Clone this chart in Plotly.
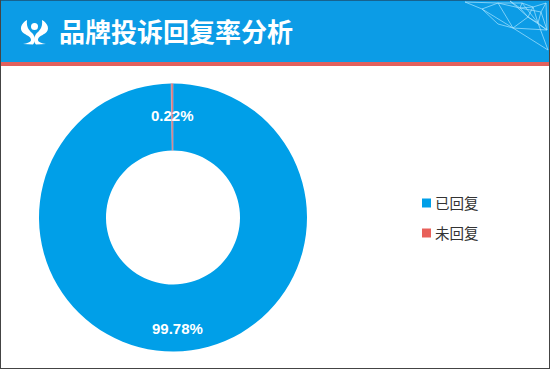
import plotly.graph_objects as go

categories = ["已回复", "未回复"]
values = [99.78, 0.22]
colors = ["#009fe8", "#e8605a"]
title = "品牌投诉回复率分析"

W, H = 550, 369
def px(x): return x / W
def py(y): return 1 - y / H

# decorative network in the header corner (page pixels)
net_nodes = [(465,2),(498,3),(482,9),(520,8),(533,7),(546,3),(513,28),(547,30),(498,24),(528,17),(548,50),(522,3),(538,23),(541,12),(510,1)]
net_links = [(0,2),(0,1),(1,2),(1,3),(1,6),(2,8),(2,6),(3,4),(4,5),(4,9),(3,9),(9,6),(6,10),(9,7),(5,7),(4,12),(11,12),(12,7),(8,6),(11,1),(11,4),(3,11),(6,7),(12,10),(13,3),(13,12),(13,5),(14,3),(14,9),(13,7),(9,12)]

shapes = []
def rect(x0, y0, x1, y1, c):
    shapes.append(dict(type="rect", xref="paper", yref="paper", x0=px(x0), x1=px(x1),
                       y0=py(y1), y1=py(y0), fillcolor=c, line_width=0, layer="below"))

rect(0, 0, 550, 62, "#0c9ce6")
rect(0, 0, 550, 1, "#17628f")
rect(0, 62, 550, 66, "#e2605c")
rect(0, 0, 1, 369, "#444444")
rect(549, 0, 550, 369, "#444444")
rect(0, 368, 550, 369, "#444444")

for a, b in net_links:
    shapes.append(dict(type="line", xref="paper", yref="paper",
                       x0=px(net_nodes[a][0]), y0=py(net_nodes[a][1]),
                       x1=px(net_nodes[b][0]), y1=py(net_nodes[b][1]),
                       line=dict(color="rgba(170,228,255,0.7)", width=1)))

# header logo: a head and two mirrored arms
logo_cx = 34.5
logo_arm = [("M",(27,20)),("C",(21,23),(18.5,30),(24,33.5)),("C",(28,36),(31,37),(31,40)),("C",(31,42),(27,43.5),(23,44)),
            ("L",(33,44.5)),("C",(36,41),(35,37),(33,34)),("C",(30,31),(26,28),(27,20))]
def logo_path(mirror):
    parts = []
    for seg in logo_arm:
        pts = []
        for (x, y) in seg[1:]:
            x = 2 * logo_cx - x if mirror else x
            pts.append(f"{px(x):.5f},{py(y):.5f}")
        parts.append(seg[0] + " ".join(pts))
    return " ".join(parts) + " Z"
for m in (False, True):
    shapes.append(dict(type="path", xref="paper", yref="paper", path=logo_path(m), fillcolor="white", line_width=0))
shapes.append(dict(type="circle", xref="paper", yref="paper", x0=px(31), x1=px(38), y0=py(30), y1=py(23),
                   fillcolor="white", line_width=0))

fig = go.Figure(go.Pie(
    labels=categories, values=values, hole=0.5, sort=False, direction="clockwise", rotation=0,
    marker=dict(colors=colors, line=dict(width=[0, 0.8], color=["rgba(0,0,0,0)", "rgba(205,170,190,0.9)"])),
    textinfo="none", hoverinfo="label+percent",
    showlegend=False, domain=dict(x=[px(39), px(307)], y=[py(351.5), py(83.5)]),
))

annotations = [
    dict(text=title, x=px(56.5), y=py(30.5), xanchor="left", yanchor="middle", showarrow=False,
         font=dict(family="Noto Sans CJK SC", size=26, color="white", weight="bold")),
]
for v, (x, y) in zip(values[::-1], [(172.5, 115), (177, 328)]):
    annotations.append(dict(text=f"{v:.2f}%", x=px(x), y=py(y), showarrow=False,
                            xanchor="center", yanchor="middle",
                            font=dict(family="Liberation Sans", size=15, color="white", weight="bold")))
for name, c, y in zip(categories, colors, [203, 233]):
    rect(422, y - 4.5, 431, y + 4.5, c)
    annotations.append(dict(text=name, x=px(432.5), y=py(y - 1), xanchor="left", yanchor="middle", showarrow=False,
                            font=dict(family="Noto Sans CJK SC", size=14.5, color="#333333")))

fig.update_layout(width=W, height=H, margin=dict(l=0, r=0, t=0, b=0), paper_bgcolor="white",
                  shapes=shapes, annotations=annotations)
fig.write_html("out.html", config=dict(displayModeBar=False),
               post_script="document.body.style.margin='0';document.documentElement.style.overflow='hidden';")
